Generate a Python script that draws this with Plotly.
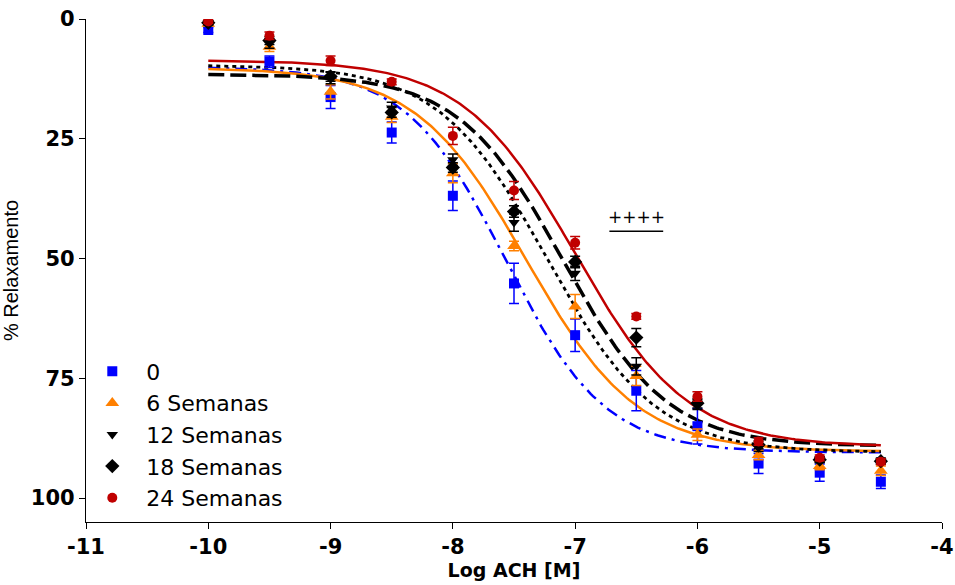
import numpy as np
import plotly.graph_objects as go

# ---------------- data ----------------
log_ach = [-10, -9.5, -9, -8.5, -8, -7.5, -7, -6.5, -6, -5.5, -5, -4.5]

series_names = ["0", "6 Semanas", "12 Semanas", "18 Semanas", "24 Semanas"]

relax_0 = [2.3, 8.9, 16.3, 23.7, 36.9, 55.2, 66.0, 77.6, 85.0, 92.8, 94.7, 96.6]
relax_6 = [1.0, 5.8, 15.2, 20.4, 32.2, 47.4, 60.0, 74.5, 86.8, 91.0, 93.3, 94.3]
relax_12 = [0.8, 5.1, 12.3, 18.6, 29.4, 42.5, 53.1, 72.5, 80.5, 89.5, 92.0, 92.3]
relax_18 = [0.8, 4.5, 12.0, 19.5, 31.0, 40.2, 50.7, 66.5, 80.2, 88.9, 92.0, 92.3]
relax_24 = [0.5, 3.5, 8.7, 13.1, 24.4, 35.8, 46.7, 62.1, 78.8, 88.2, 91.6, 92.4]

sem_0 = [0.5, 1.2, 2.4, 2.2, 3.1, 4.2, 3.4, 4.2, 3.7, 2.1, 1.8, 1.4]
sem_6 = [0.4, 1.0, 1.5, 1.2, 2.0, 1.0, 2.5, 2.0, 1.2, 1.0, 0.8, 1.0]
sem_12 = [0.4, 1.0, 1.2, 1.2, 1.2, 1.8, 1.5, 1.8, 1.0, 0.8, 0.6, 0.6]
sem_18 = [0.4, 0.8, 1.0, 1.0, 1.0, 1.2, 1.2, 1.9, 1.0, 0.8, 0.6, 0.6]
sem_24 = [0.4, 0.8, 1.0, 0.6, 1.8, 1.9, 1.3, 0.6, 1.0, 0.8, 0.6, 0.6]

# sigmoidal dose-response fit parameters
fit_top = [10.0, 10.2, 9.6, 11.5, 8.6]
fit_bottom = [90.5, 90.3, 90.5, 89.2, 89.3]
fit_logec50 = [-7.57, -7.40, -7.23, -7.10, -7.00]
fit_hill = [1.07, 0.96, 0.98, 1.02, 0.95]

x_ticks = [-11, -10, -9, -8, -7, -6, -5, -4]
y_ticks = [0, 25, 50, 75, 100]

# ---------------- styling ----------------
colors = ["#0000FF", "#FF8000", "#000000", "#000000", "#C00000"]
symbols = ["square", "triangle-up", "triangle-down", "diamond", "circle"]
msizes = [10, 12, 10, 11, 10]
dashes = ["12px,6px,3px,6px", "solid", "4px,4px", "16px,6px", "solid"]
lwidths = [2.5, 2.5, 2.8, 3.5, 2.5]

values = [relax_0, relax_6, relax_12, relax_18, relax_24]
errors = [sem_0, sem_6, sem_12, sem_18, sem_24]

fig = go.Figure()

xc = np.linspace(-10, -4.5, 300)
for i in range(5):
    yc = fit_top[i] + (fit_bottom[i] - fit_top[i]) / (1 + 10 ** ((fit_logec50[i] - xc) * fit_hill[i]))
    fig.add_trace(go.Scatter(
        x=xc, y=yc, mode="lines", showlegend=False, hoverinfo="skip",
        line=dict(color=colors[i], width=lwidths[i], dash=dashes[i]),
    ))

for i in range(5):
    fig.add_trace(go.Scatter(
        x=log_ach, y=values[i], mode="markers", name=series_names[i],
        marker=dict(symbol=symbols[i], size=msizes[i], color=colors[i], line=dict(width=0)),
        error_y=dict(type="data", array=errors[i], visible=True,
                     color=colors[i], thickness=1.5, width=5),
    ))

# "++++" significance mark
fig.add_annotation(x=-6.5, y=41.3, text="++++", showarrow=False,
                   font=dict(family="DejaVu Sans", size=17, color="black"),
                   xanchor="center", yanchor="middle")
fig.add_shape(type="line", x0=-6.72, x1=-6.28, y0=44.3, y1=44.3,
              line=dict(color="black", width=1.5))

fig.update_xaxes(
    range=[-11, -4], tickvals=x_ticks, ticktext=[str(v) for v in x_ticks],
    automargin=False,
    showgrid=False, zeroline=False, showline=True, linecolor="black", linewidth=1.2,
    ticks="outside", ticklen=6, tickcolor="black", tickwidth=1.2,
    tickfont=dict(family="DejaVu Sans", size=21, color="black", weight="bold"),
    title=dict(text="<b>Log ACH [M]</b>", standoff=4,
               font=dict(family="DejaVu Sans", size=19, color="black")),
)
fig.update_yaxes(
    range=[105, 0], tickvals=y_ticks, ticktext=[str(v) for v in y_ticks],
    automargin=False,
    showgrid=False, zeroline=False, showline=True, linecolor="black", linewidth=1.2,
    ticks="outside", ticklen=6, tickcolor="black", tickwidth=1.2,
    tickfont=dict(family="DejaVu Sans", size=21, color="black", weight="bold"),
    title=dict(text="% Relaxamento", standoff=7,
               font=dict(family="Liberation Sans", size=20, color="black")),
)

fig.update_layout(
    width=955, height=585,
    margin=dict(l=86, r=13, t=19, b=63),
    paper_bgcolor="white", plot_bgcolor="white",
    showlegend=True,
    legend=dict(x=-0.009, y=0.341, xanchor="left", yanchor="top",
                bgcolor="rgba(0,0,0,0)", itemwidth=58,
                font=dict(family="DejaVu Sans", size=22, color="black"),
                tracegroupgap=0),
)

fig.write_html("out.html")
